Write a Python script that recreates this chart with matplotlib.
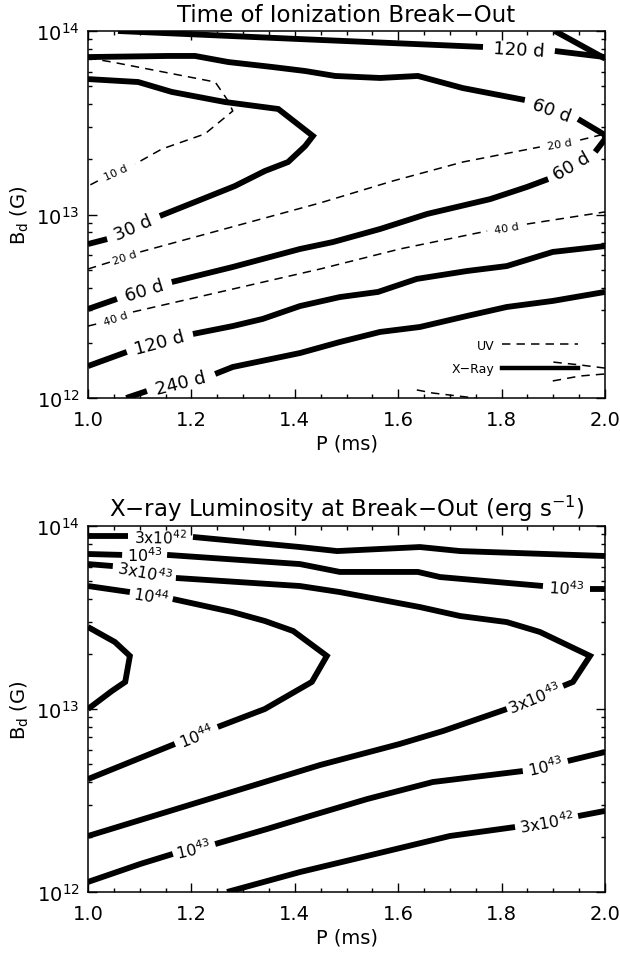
import numpy as np
import matplotlib
matplotlib.use("Agg")
import matplotlib.pyplot as plt
from matplotlib.ticker import MultipleLocator, LogLocator, NullFormatter, FormatStrFormatter
from matplotlib.lines import Line2D

plt.rcParams['font.family'] = ['DejaVu Sans']
plt.rcParams['mathtext.default'] = 'regular'

# ---------------- Time of ionization break-out ----------------
# X-ray contours (solid): spin period P (ms) and log10 of dipole field B_d (G)
t120_P = [1.058, 1.410, 1.764, 1.903, 2.000]
t120_logB = [14.000, 13.956, 13.913, 13.891, 13.858]

t240_edge_P = [1.903, 2.000]
t240_edge_logB = [14.000, 13.850]

t60_P = [1.000, 1.155, 1.207, 1.271, 1.356, 1.420, 1.478, 1.565, 1.638, 1.725,
         1.845, 1.948, 2.000, 2.000, 1.981, 1.890, 1.849, 1.778, 1.656, 1.565,
         1.474, 1.410, 1.280, 1.162, 1.056, 1.000]
t60_logB = [13.858, 13.864, 13.864, 13.831, 13.804, 13.782, 13.755, 13.744, 13.755, 13.689,
            13.624, 13.520, 13.433, 13.411, 13.341, 13.193, 13.150, 13.084, 13.003, 12.921,
            12.850, 12.812, 12.714, 12.632, 12.540, 12.485]

t30_P = [1.000, 1.097, 1.162, 1.265, 1.368, 1.435, 1.420, 1.387, 1.342, 1.284,
         1.221, 1.139, 1.037, 1.000]
t30_logB = [13.738, 13.722, 13.668, 13.613, 13.575, 13.428, 13.373, 13.286, 13.237, 13.155,
            13.084, 12.992, 12.866, 12.839]

t120_low_P = [1.000, 1.075, 1.203, 1.280, 1.338, 1.410, 1.487, 1.561, 1.636, 1.733,
              1.810, 1.899, 2.000]
t120_low_logB = [12.174, 12.251, 12.349, 12.392, 12.431, 12.501, 12.550, 12.578, 12.649, 12.692,
                 12.719, 12.796, 12.828]

t240_P = [1.074, 1.114, 1.246, 1.280, 1.410, 1.487, 1.565, 1.642, 1.733, 1.810, 1.899, 2.000]
t240_logB = [12.000, 12.038, 12.131, 12.169, 12.245, 12.305, 12.360, 12.387, 12.447, 12.496,
             12.529, 12.578]

# UV contours (dashed)
u10_P = [1.000, 1.046, 1.246, 1.271, 1.280, 1.226, 1.143, 1.091, 1.019, 1.000]
u10_logB = [13.853, 13.831, 13.722, 13.619, 13.564, 13.439, 13.357, 13.275, 13.183, 13.155]

u20_P = [1.000, 1.043, 1.101, 1.449, 1.590, 1.725, 1.874, 1.952, 2.000]
u20_logB = [12.703, 12.741, 12.796, 13.063, 13.183, 13.286, 13.368, 13.406, 13.439]

u40_P = [1.000, 1.019, 1.087, 1.449, 1.603, 1.772, 1.849, 2.000]
u40_logB = [12.392, 12.405, 12.469, 12.703, 12.812, 12.910, 12.948, 13.014]

u_corner_P = [1.636, 1.667, 1.700, 1.733, 1.749]
u_corner_logB = [12.044, 12.027, 12.016, 12.005, 12.000]

u_loop_P = [2.000, 1.952, 1.899, 1.899, 1.952, 2.000]
u_loop_logB = [12.163, 12.180, 12.196, 12.093, 12.120, 12.131]

# ---------------- X-ray luminosity at break-out ----------------
l3e42_top_P = [1.000, 1.077, 1.203, 1.410, 1.482, 1.642, 1.720, 2.000]
l3e42_top_logB = [13.945, 13.945, 13.940, 13.885, 13.863, 13.885, 13.863, 13.836]

l1e43_top_P = [1.000, 1.066, 1.153, 1.410, 1.487, 1.638, 1.681, 1.880, 1.971, 2.000]
l1e43_top_logB = [13.847, 13.842, 13.842, 13.792, 13.749, 13.749, 13.721, 13.672, 13.656, 13.656]

l3e43_P = [1.000, 1.048, 1.170, 1.410, 1.487, 1.642, 1.720, 1.810, 1.874, 1.971,
           1.938, 1.919, 1.810, 1.687, 1.603, 1.449, 1.000]
l3e43_logB = [13.792, 13.781, 13.716, 13.672, 13.639, 13.557, 13.508, 13.475, 13.421, 13.290,
              13.148, 13.126, 13.000, 12.880, 12.809, 12.694, 12.306]

l1e44_P = [1.000, 1.081, 1.164, 1.279, 1.342, 1.397, 1.462, 1.433, 1.342, 1.251, 1.168, 1.000]
l1e44_logB = [13.672, 13.639, 13.601, 13.530, 13.481, 13.426, 13.290, 13.148, 13.000, 12.902,
              12.809, 12.617]

l_inner_P = [1.000, 1.052, 1.081, 1.072, 1.046, 1.000]
l_inner_logB = [13.448, 13.366, 13.290, 13.148, 13.098, 13.000]

l1e43_low_P = [1.000, 1.101, 1.164, 1.246, 1.346, 1.429, 1.540, 1.667, 1.841, 1.928, 2.000]
l1e43_low_logB = [12.055, 12.153, 12.208, 12.262, 12.344, 12.415, 12.508, 12.601, 12.661, 12.716,
                  12.765]

l3e42_low_P = [1.269, 1.410, 1.540, 1.700, 1.826, 1.948, 2.000]
l3e42_low_logB = [12.000, 12.109, 12.197, 12.306, 12.355, 12.415, 12.443]

SOLID = dict(color='black', lw=4.2, solid_capstyle='butt', solid_joinstyle='miter', clip_on=True)
DASHED = dict(color='black', lw=1.1, linestyle=(0, (5.5, 4.0)), dash_capstyle='butt')


def draw_contour(ax, P, logB, style, gaps=(), texts=(), fs=13):
    """Draw a contour polyline, breaking it after each index in `gaps`
    and writing the level label inside the break, aligned with the line."""
    P = np.asarray(P, float)
    B = 10.0 ** np.asarray(logB, float)
    start = 0
    for g in sorted(gaps):
        if g + 1 - start > 1:
            ax.plot(P[start:g + 1], B[start:g + 1], **style)
        start = g + 1
    if len(P) - start > 1:
        ax.plot(P[start:], B[start:], **style)
    for g, t in zip(gaps, texts):
        p0 = ax.transData.transform((P[g], B[g]))
        p1 = ax.transData.transform((P[g + 1], B[g + 1]))
        ang = np.degrees(np.arctan2(p1[1] - p0[1], p1[0] - p0[0]))
        if ang > 90:
            ang -= 180
        if ang < -90:
            ang += 180
        xm, ym = ax.transData.inverted().transform((p0 + p1) / 2.0)
        ax.text(xm, ym, t, rotation=ang, rotation_mode='anchor', ha='center',
                va='center', fontsize=fs, color='black')


def setup_axes(ax, title):
    ax.set_xlim(1.0, 2.0)
    ax.set_yscale('log')
    ax.set_ylim(1e12, 1e14)
    ax.set_autoscale_on(False)
    ax.xaxis.set_major_locator(MultipleLocator(0.2))
    ax.xaxis.set_minor_locator(MultipleLocator(0.05))
    ax.xaxis.set_major_formatter(FormatStrFormatter('%.1f'))
    ax.yaxis.set_major_locator(LogLocator(base=10, numticks=5))
    ax.yaxis.set_minor_locator(LogLocator(base=10, subs=np.arange(2, 10), numticks=20))
    ax.yaxis.set_minor_formatter(NullFormatter())
    ax.tick_params(which='both', direction='in', top=True, right=True, width=1.0, labelsize=14)
    ax.tick_params(which='major', length=6.5)
    ax.tick_params(which='minor', length=3.2)
    ax.tick_params(axis='x', pad=9)
    ax.tick_params(axis='y', pad=6)
    for s in ax.spines.values():
        s.set_linewidth(1.1)
    ax.set_title(title, fontsize=16.5, pad=7)
    ax.set_xlabel('P (ms)', fontsize=14, labelpad=3)


fig = plt.figure(figsize=(6.2, 9.54), dpi=100)
left, width = 88 / 620, 517 / 620
ax1 = fig.add_axes([left, (954 - 399) / 954, width, 367 / 954])
ax2 = fig.add_axes([left, (954 - 893) / 954, width, 366 / 954])

setup_axes(ax1, 'Time of Ionization Break\u2212Out')
setup_axes(ax2, 'X\u2212ray Luminosity at Break\u2212Out (erg s$^{\u22121}$)')

for ax in (ax1, ax2):
    pos = ax.get_position()
    fig.text(20 / 620, pos.y0 + pos.height / 2, 'B$_d$ (G)', rotation=90,
             ha='center', va='center', fontsize=14)

# top panel: X-ray (solid) and UV (dashed) break-out times
draw_contour(ax1, t120_P, t120_logB, SOLID, gaps=[2], texts=['120 d'])
draw_contour(ax1, t240_edge_P, t240_edge_logB, SOLID)
draw_contour(ax1, t60_P, t60_logB, SOLID, gaps=[10, 14, 23], texts=['60 d', '60 d', '60 d'])
draw_contour(ax1, t30_P, t30_logB, SOLID, gaps=[11], texts=['30 d'])
draw_contour(ax1, t120_low_P, t120_low_logB, SOLID, gaps=[1], texts=['120 d'])
draw_contour(ax1, t240_P, t240_logB, SOLID, gaps=[1], texts=['240 d'])

draw_contour(ax1, u10_P, u10_logB, DASHED, gaps=[7], texts=['10 d'], fs=8)
draw_contour(ax1, u20_P, u20_logB, DASHED, gaps=[1, 6], texts=['20 d', '20 d'], fs=8)
draw_contour(ax1, u40_P, u40_logB, DASHED, gaps=[1, 5], texts=['40 d', '40 d'], fs=8)
draw_contour(ax1, u_corner_P, u_corner_logB, DASHED)
draw_contour(ax1, u_loop_P, u_loop_logB, DASHED, gaps=[2])

handles = [Line2D([], [], **DASHED), Line2D([], [], color='black', lw=3.2)]
ax1.legend(handles, ['UV', 'X\u2212Ray'], loc='lower right', bbox_to_anchor=(0.948, 0.062),
           frameon=False, markerfirst=False, handlelength=6.1, handletextpad=0.6,
           labelspacing=0.85, fontsize=9, borderpad=0, borderaxespad=0)

# bottom panel: X-ray luminosity contours
draw_contour(ax2, l3e42_top_P, l3e42_top_logB, SOLID, gaps=[1], texts=['3x10$^{42}$'], fs=11)
draw_contour(ax2, l1e43_top_P, l1e43_top_logB, SOLID, gaps=[1, 7],
             texts=['10$^{43}$', '10$^{43}$'], fs=11.5)
draw_contour(ax2, l3e43_P, l3e43_logB, SOLID, gaps=[1, 11],
             texts=['3x10$^{43}$', '3x10$^{43}$'], fs=11.5)
draw_contour(ax2, l1e44_P, l1e44_logB, SOLID, gaps=[1, 9],
             texts=['10$^{44}$', '10$^{44}$'], fs=11.5)
draw_contour(ax2, l_inner_P, l_inner_logB, SOLID)
draw_contour(ax2, l1e43_low_P, l1e43_low_logB, SOLID, gaps=[2, 8],
             texts=['10$^{43}$', '10$^{43}$'], fs=11.5)
draw_contour(ax2, l3e42_low_P, l3e42_low_logB, SOLID, gaps=[4], texts=['3x10$^{42}$'], fs=11.5)

fig.savefig('out.png', dpi=100)
